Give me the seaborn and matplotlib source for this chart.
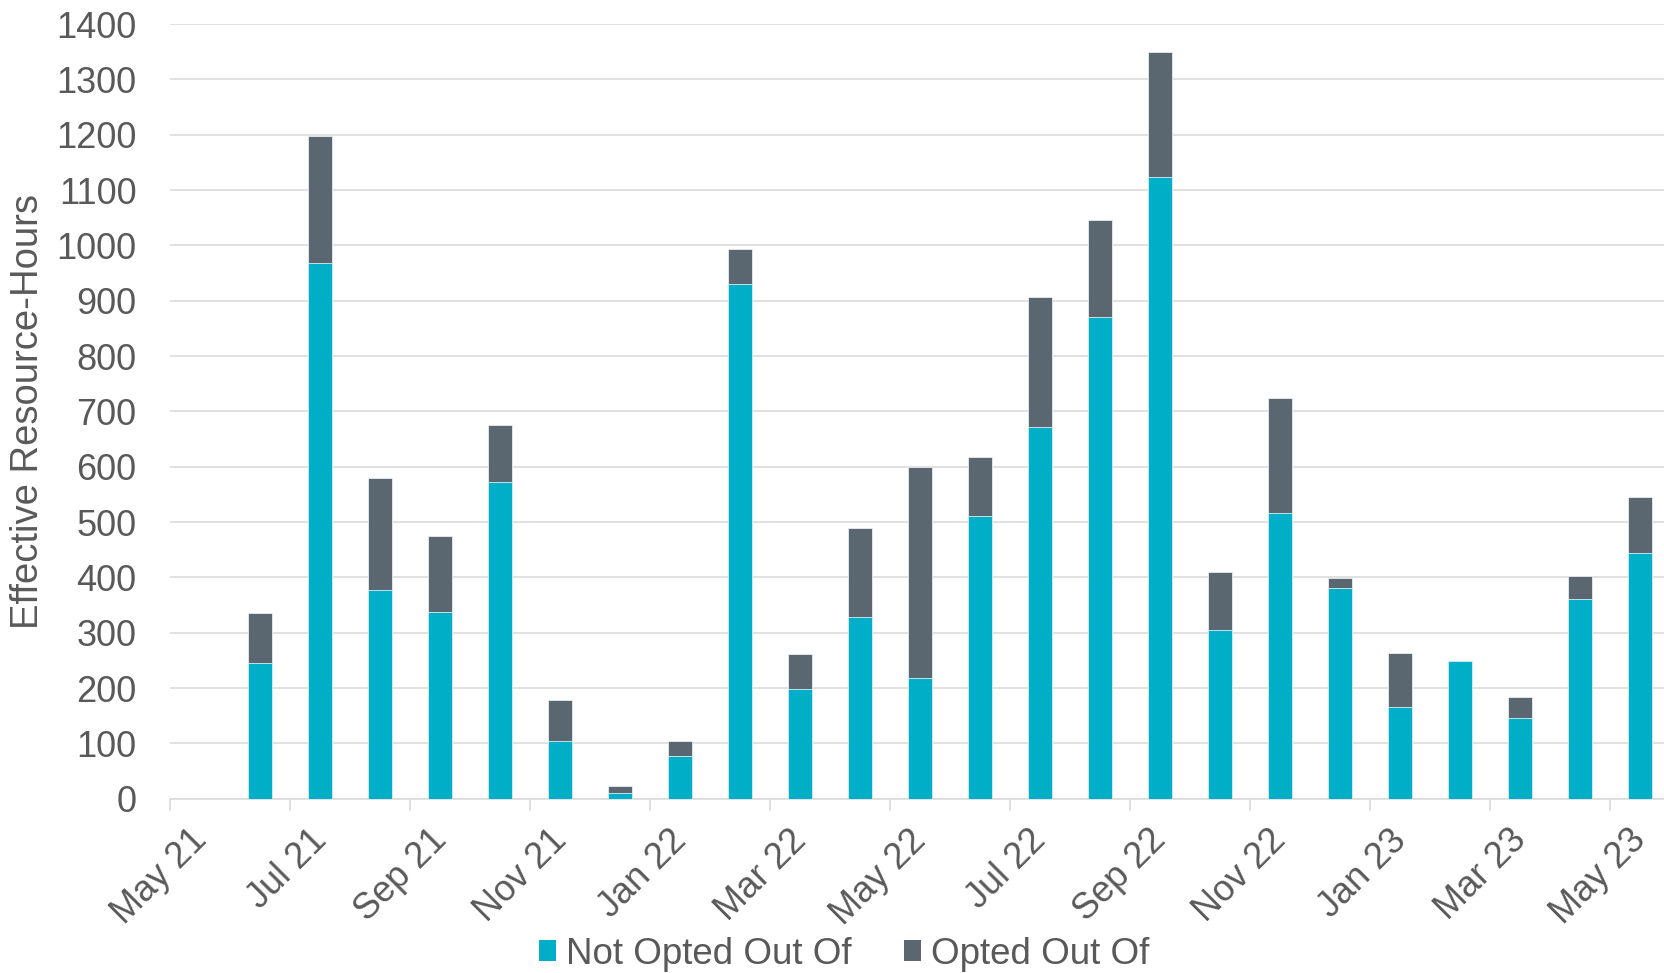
import matplotlib
matplotlib.use("Agg")
import matplotlib.pyplot as plt
from matplotlib.patches import Patch
import numpy as np
import pandas as pd
import seaborn as sns

# Monthly effective resource-hours, Jun 2021 – May 2023
months = ["Jun 21", "Jul 21", "Aug 21", "Sep 21", "Oct 21", "Nov 21", "Dec 21",
          "Jan 22", "Feb 22", "Mar 22", "Apr 22", "May 22", "Jun 22", "Jul 22",
          "Aug 22", "Sep 22", "Oct 22", "Nov 22", "Dec 22", "Jan 23", "Feb 23",
          "Mar 23", "Apr 23", "May 23"]
not_opted_out = [246, 968, 377, 338, 572, 105, 10, 78, 931, 199, 328, 218,
                 510, 671, 870, 1123, 304, 516, 380, 166, 248, 146, 360, 444]
opted_out = [90, 229, 203, 137, 103, 73, 13, 26, 62, 62, 162, 382,
             108, 236, 176, 226, 105, 209, 19, 98, 0, 38, 43, 102]

# Date axis labels (every second month, starting May 21)
tick_labels = ["May 21", "Jul 21", "Sep 21", "Nov 21", "Jan 22", "Mar 22", "May 22",
               "Jul 22", "Sep 22", "Nov 22", "Jan 23", "Mar 23", "May 23"]

series_names = ["Not Opted Out Of", "Opted Out Of"]
TEAL = "#00AEC7"
SLATE = "#5B6770"
TEXT = "#595959"
GRID = "#D9D9D9"

sns.set_theme(style="white")
plt.rcParams["font.family"] = ["Liberation Sans", "DejaVu Sans"]

# x position in months since May 2021; each bar sits in the middle of its month
df = pd.DataFrame({
    "month": months,
    "pos": np.arange(1, len(months) + 1) + 0.5,
    "not_opted": not_opted_out,
    "opted": opted_out,
})
df["total"] = df["not_opted"] + df["opted"]

fig = plt.figure(figsize=(16.65, 9.73), dpi=100)
ax = fig.add_axes([170 / 1665, (973 - 798.7) / 973, 1 - 170 / 1665, (798.7 - 24) / 973])

# stacked bars: full height in slate, lower segment in teal
sns.barplot(data=df, x="pos", y="total", native_scale=True, orient="x",
            color=SLATE, width=0.39, saturation=1, edgecolor="#E6EEF0",
            linewidth=0.6, ax=ax, zorder=3)
sns.barplot(data=df, x="pos", y="not_opted", native_scale=True, orient="x",
            color=TEAL, width=0.39, saturation=1, edgecolor="#D8F0F4",
            linewidth=0.6, ax=ax, zorder=4)

ax.set_xlim(0, 24.92)
ax.set_ylim(0, 1400)
ax.set_yticks(np.arange(0, 1401, 100))
tick_pos = np.arange(0, 25, 2)
ax.set_xticks(tick_pos)
ax.set_xticklabels([])

# rotated date labels, each ending just right of its tick
for x, lab in zip(tick_pos, tick_labels):
    ax.annotate(lab, xy=(x, 0), xycoords=("data", "axes fraction"),
                xytext=(13.5, -17.3), textcoords="offset points",
                rotation=45, rotation_mode="anchor", ha="right", va="top",
                fontsize=26, color=TEXT, annotation_clip=False)

ax.grid(axis="y", color=GRID, linewidth=1.1, zorder=0)
ax.grid(axis="x", visible=False)
for side in ["left", "right", "top"]:
    ax.spines[side].set_visible(False)
ax.spines["bottom"].set_color(GRID)
ax.spines["bottom"].set_linewidth(1.1)

ax.tick_params(axis="y", length=0, pad=24, labelsize=26, labelcolor=TEXT)
ax.tick_params(axis="x", length=8.5, width=1.1, color=GRID, direction="out",
               bottom=True)

ax.set_xlabel("")
ax.set_ylabel("Effective Resource-Hours", fontsize=27.5, color=TEXT)
ax.yaxis.set_label_coords(-0.083, 0.5)

handles = [Patch(facecolor=TEAL, edgecolor="none"), Patch(facecolor=SLATE, edgecolor="none")]
fig.legend(handles, series_names, loc="center", bbox_to_anchor=(0.507, 0.0195),
           ncol=2, frameon=False, fontsize=26.5, labelcolor=TEXT,
           handlelength=0.47, handleheight=0.47, handletextpad=0.28,
           columnspacing=1.4, borderpad=0, borderaxespad=0)

fig.savefig("out.png", dpi=100)
